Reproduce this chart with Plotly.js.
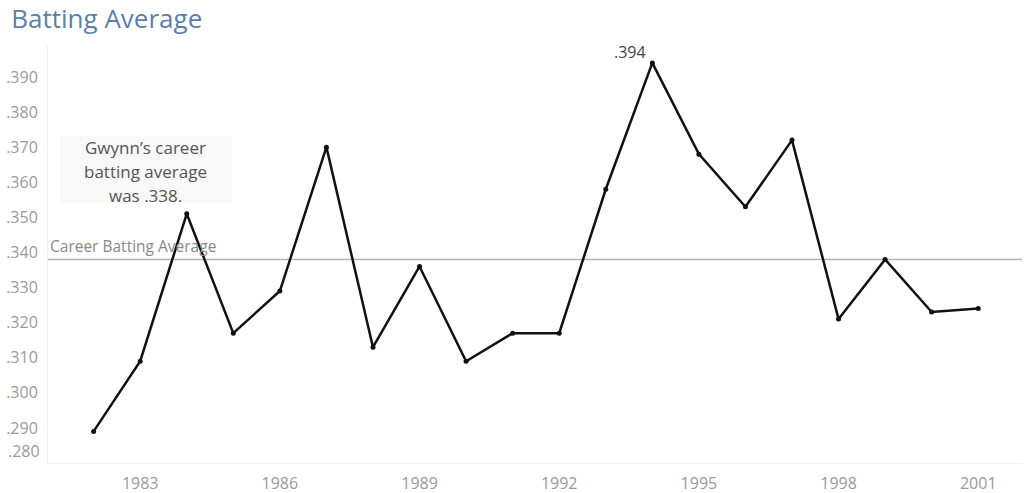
<!DOCTYPE html>
<html>
<head>
<meta charset="utf-8">
<script src="https://cdn.plot.ly/plotly-3.0.1.min.js"></script>
<style>
  html, body { margin: 0; padding: 0; background: #fff; }
  #chart { width: 1024px; height: 493px; }
</style>
</head>
<body>
<div id="chart"></div>
<script>
// Tony Gwynn, season batting averages
var years = [1982, 1983, 1984, 1985, 1986, 1987, 1988, 1989, 1990, 1991,
             1992, 1993, 1994, 1995, 1996, 1997, 1998, 1999, 2000, 2001];
var averages = [0.289, 0.309, 0.351, 0.317, 0.329, 0.370, 0.313, 0.336, 0.309, 0.317,
                0.317, 0.358, 0.394, 0.368, 0.353, 0.372, 0.321, 0.338, 0.323, 0.324];
var careerAvg = 0.338;

var xTickVals = [1983, 1986, 1989, 1992, 1995, 1998, 2001];
var yTickVals = [0.29, 0.30, 0.31, 0.32, 0.33, 0.34, 0.35, 0.36, 0.37, 0.38, 0.39];
var yTickText = ['.290', '.300', '.310', '.320', '.330', '.340', '.350', '.360', '.370', '.380', '.390'];
// bottom tick sits on the axis floor, its label is lifted like the original
var yBottomVal = 0.28;
var yBottomText = '.280';

var noteLines = ['Gwynn\u2019s career', 'batting average', 'was .338.'];
var peakLabel = '.394';

var FONT = 'Open Sans, Lato, sans-serif';
var tickFont = {family: FONT, size: 16, color: '#9a9a9a'};

let data = [{
  x: years,
  y: averages,
  type: 'scatter',
  mode: 'lines+markers',
  line: {color: '#111111', width: 2.5},
  marker: {color: '#111111', size: 5},
  hoverinfo: 'x+y'
}];

// peak year
var peakIdx = averages.indexOf(Math.max.apply(null, averages));

let annotations = [
  {
    x: years[peakIdx], y: averages[peakIdx], xref: 'x', yref: 'y',
    text: peakLabel, showarrow: false,
    xanchor: 'right', yanchor: 'bottom', xshift: -4, yshift: -2,
    font: {family: FONT, size: 16, color: '#444444'}
  },
  {
    x: 0, y: careerAvg, xref: 'paper', yref: 'y',
    text: 'Career Batting Average', showarrow: false,
    xanchor: 'left', yanchor: 'bottom', xshift: 0, yshift: 0,
    font: {family: FONT, size: 15.5, color: '#888888'}
  },
  {
    x: 0, y: yBottomVal, xref: 'paper', yref: 'y',
    text: yBottomText, showarrow: false,
    xanchor: 'right', yanchor: 'bottom', xshift: -6, yshift: -1,
    font: tickFont
  }
];

// note box text, one annotation per line for wider spacing
noteLines.forEach(function (t, i) {
  annotations.push({
    x: 0.1006, y: 0.7536 - i * 0.0574, xref: 'paper', yref: 'paper',
    text: t, showarrow: false, xanchor: 'center', yanchor: 'middle',
    font: {family: FONT, size: 17, color: '#555555'}
  });
});

let layout = {
  width: 1024,
  height: 493,
  margin: {l: 48, r: 2, t: 45, b: 30},
  paper_bgcolor: '#ffffff',
  plot_bgcolor: '#ffffff',
  showlegend: false,
  title: {
    text: 'Batting Average',
    x: 0.011, xanchor: 'left', xref: 'container',
    y: 0.961, yanchor: 'middle', yref: 'container',
    font: {family: FONT, size: 26, color: '#5b7fab'}
  },
  xaxis: {
    range: [1981.02, 2001.94],
    tickvals: xTickVals,
    ticktext: xTickVals.map(String),
    showgrid: false,
    zeroline: false,
    showline: true,
    linecolor: '#f2f2f2',
    linewidth: 1,
    ticks: 'outside',
    ticklen: 6,
    tickcolor: 'rgba(0,0,0,0)',
    tickfont: tickFont
  },
  yaxis: {
    range: [0.280, 0.3991],
    tickvals: yTickVals,
    ticktext: yTickText,
    showgrid: false,
    zeroline: false,
    showline: true,
    linecolor: '#f2f2f2',
    linewidth: 1,
    ticks: 'outside',
    ticklen: 6,
    tickcolor: 'rgba(0,0,0,0)',
    tickfont: tickFont
  },
  shapes: [
    {
      type: 'line', xref: 'paper', yref: 'y',
      x0: 0, x1: 1, y0: careerAvg, y1: careerAvg,
      line: {color: '#b3b3b3', width: 1.5},
      layer: 'below'
    },
    {
      type: 'rect', xref: 'paper', yref: 'paper',
      x0: 0.0123, x1: 0.1889, y0: 0.6244, y1: 0.7823,
      fillcolor: '#f8f8f8', line: {width: 0},
      layer: 'below'
    }
  ],
  annotations: annotations
};

Plotly.newPlot('chart', data, layout, {displayModeBar: false, staticPlot: true});
</script>
</body>
</html>
